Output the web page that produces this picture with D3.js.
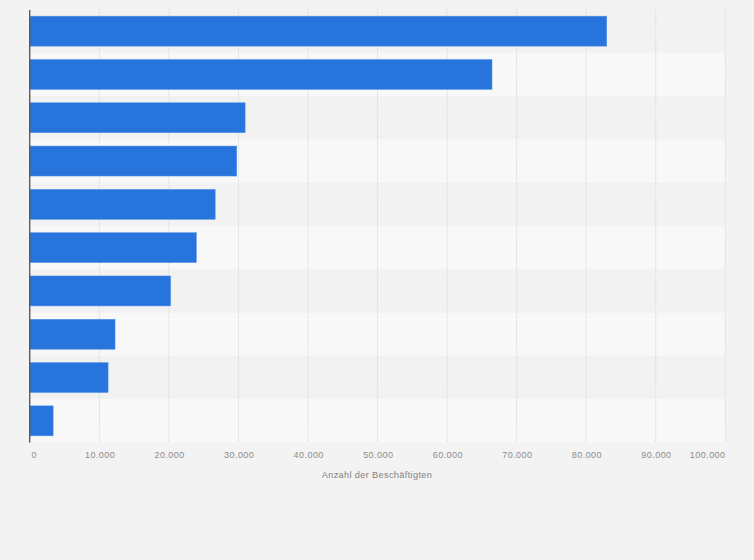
<!DOCTYPE html>
<html><head><meta charset="utf-8">
<script src="https://cdn.jsdelivr.net/npm/d3@7/dist/d3.min.js"></script>
<style>html,body{margin:0;padding:0;background:#f3f3f3}svg{display:block}text{font-family:"Liberation Sans",Arial,sans-serif}</style>
</head><body><svg id="c" width="754" height="560"></svg>
<script>
const categories = ["1","2","3","4","5","6","7","8","9","10"];
const values = [83000,66500,31000,29800,26700,24000,20300,12300,11300,3400];
const tickValues = [0,10000,20000,30000,40000,50000,60000,70000,80000,90000,100000];
const tickLabels = ["0","10.000","20.000","30.000","40.000","50.000","60.000","70.000","80.000","90.000","100.000"];
const axisTitle = "Anzahl der Beschäftigten";

const svg = d3.select("#c");
const x = d3.scaleLinear().domain([0,100000]).range([29.5,725]);
const y = d3.scaleBand().domain(categories).range([9.5,442.5]).paddingInner(0).paddingOuter(0);
const barH = 30;

svg.append("rect").attr("width",754).attr("height",560).attr("fill","#f3f3f3");
svg.append("g").selectAll("rect").data(categories).join("rect")
  .attr("x",x(0)).attr("width",x(100000)-x(0))
  .attr("y",d=>y(d)).attr("height",y.bandwidth())
  .attr("fill",(d,i)=>i%2?"#f8f8f8":"#f2f2f2");

const axis = d3.axisBottom(x).tickValues(tickValues).tickSize(0).tickFormat((d,i)=>tickLabels[i]);
const g = svg.append("g").attr("transform","translate(0,442.5)").call(axis);
g.select(".domain").remove();
g.selectAll("text").attr("y",9).attr("dy","0.71em").attr("font-size",9).attr("letter-spacing","0.45px")
  .attr("fill","#8c8c8c")
  .attr("text-anchor",(d,i)=>i===0?"start":i===tickValues.length-1?"end":"middle")
  .attr("dx",(d,i)=>i===0?1.5:i===tickValues.length-1?0:0.5);

svg.append("g").selectAll("line").data(tickValues.slice(1)).join("line")
  .attr("x1",d=>x(d)+0.3).attr("x2",d=>x(d)+0.3).attr("y1",10).attr("y2",442.5)
  .attr("stroke","#dadada").attr("stroke-width",1).attr("stroke-dasharray","1.5,1");

svg.append("g").selectAll("rect").data(values).join("rect")
  .attr("x",x(0)).attr("y",(d,i)=>y(categories[i])+(y.bandwidth()-barH)/2)
  .attr("width",d=>x(d)-x(0)).attr("height",barH)
  .attr("fill","#2774dd").attr("stroke","#5a97ea").attr("stroke-width",0.5);

svg.append("line").attr("x1",x(0)+0.2).attr("x2",x(0)+0.2).attr("y1",10).attr("y2",442.5)
  .attr("stroke","#5c5c5c").attr("stroke-width",1.4);

svg.append("text").attr("x",377).attr("y",477.5).attr("text-anchor","middle")
  .attr("font-size",9.2).attr("letter-spacing","0.35px").attr("fill","#7f7f7f").text(axisTitle);
</script></body></html>
